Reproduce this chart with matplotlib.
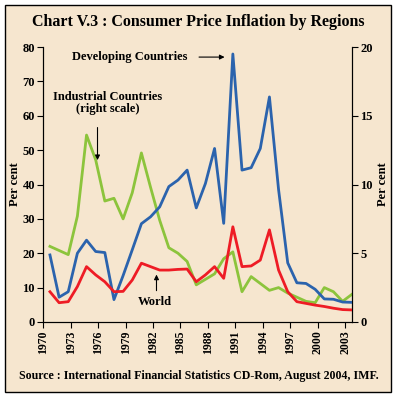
import numpy as np
import matplotlib.pyplot as plt
from matplotlib.patches import Rectangle

# Years and inflation (per cent)
years = np.arange(1970, 2004)
developing = [19.5, 7.2, 8.8, 20.0, 23.8, 20.5, 20.2, 6.5, 13.5, 21.0,
              28.6, 30.6, 33.5, 39.4, 41.3, 44.2, 33.2, 40.3, 50.5, 28.7,
              78.0, 44.2, 44.9, 50.5, 65.5, 38.5, 17.2, 11.4, 11.2, 9.5,
              6.7, 6.6, 5.8, 5.7]
world = [8.8, 5.6, 5.9, 10.3, 16.1, 13.7, 11.7, 8.8, 8.9, 12.2,
         17.1, 16.1, 15.1, 15.1, 15.3, 15.4, 11.7, 13.7, 16.1, 12.7,
         27.7, 16.1, 16.3, 18.0, 26.8, 15.1, 8.8, 5.9, 5.4, 4.9,
         4.5, 4.0, 3.6, 3.5]
# Industrial countries (right scale)
industrial = [5.5, 5.2, 4.9, 7.7, 13.6, 11.8, 8.8, 9.0, 7.5, 9.4,
              12.3, 9.8, 7.4, 5.4, 5.0, 4.4, 2.7, 3.1, 3.5, 4.6,
              5.1, 2.2, 3.3, 2.8, 2.3, 2.5, 2.1, 1.8, 1.5, 1.4,
              2.5, 2.2, 1.5, 2.0]
tick_years = years[::3]

font = 'Liberation Serif'
bg = '#F6E6CF'

fig = plt.figure(figsize=(3.97, 3.96), dpi=100, facecolor='white')
fig.patches.append(Rectangle((5/397, 4/396), 386/397, 387/396, transform=fig.transFigure,
                             facecolor=bg, edgecolor='black', linewidth=1.0, zorder=-1))

ax = fig.add_axes([0.109, 0.187, 0.777, 0.694])
ax2 = ax.twinx()

ax.plot(years, developing, color='#2B63AD', lw=2.0, zorder=3)
ax.plot(years, world, color='#EE1C25', lw=2.0, zorder=3)
ax2.plot(years, industrial, color='#8CC43C', lw=2.0)

# category-style x axis: first point sits a bit right of the first tick
offset = 0.73
ax.set_xlim(years[0] - offset, years[-1])
ax.set_ylim(0, 80)
ax2.set_ylim(0, 20)
ax.set_xticks(tick_years - offset)
ax.set_xticklabels([str(y) for y in tick_years], rotation=90)
ax.set_yticks(np.arange(0, 81, 10))
ax2.set_yticks(np.arange(0, 21, 5))

for a in (ax, ax2):
    a.spines['top'].set_visible(False)
    a.tick_params(length=4, width=0.8, labelsize=9, pad=2)
    a.tick_params(axis='x', labelsize=8.5)
    for lab in a.get_xticklabels() + a.get_yticklabels():
        lab.set_fontfamily(font)
        lab.set_fontweight('bold')
ax.set_zorder(ax2.get_zorder() + 1)
ax.patch.set_visible(False)
ax2.patch.set_facecolor(bg)

ax.set_ylabel('Per cent', fontfamily=font, fontweight='bold', fontsize=9, labelpad=1)
ax2.set_ylabel('Per cent', fontfamily=font, fontweight='bold', fontsize=9, labelpad=3)

txt = dict(fontfamily=font, fontweight='bold', fontsize=9, ha='center', va='center')
ax.text(1978.7, 77.1, 'Developing Countries', **txt)
ax.annotate('', xy=(1989.4, 77.1), xytext=(1986.0, 77.1),
            arrowprops=dict(arrowstyle='-|>', color='black', lw=0.8, mutation_scale=7))
ax.text(1976.3, 63.7, 'Industrial Countries\n(right scale)', linespacing=1.05, **txt)
ax.annotate('', xy=(1975.2, 46.3), xytext=(1975.2, 57.4),
            arrowprops=dict(arrowstyle='-|>', color='black', lw=0.8, mutation_scale=7))
ax.text(1981.5, 5.8, 'World', **txt)
ax.annotate('', xy=(1981.65, 14.6), xytext=(1981.65, 8.3),
            arrowprops=dict(arrowstyle='-|>', color='black', lw=0.8, mutation_scale=7))

fig.text(0.5, 1 - 22/396, 'Chart V.3 : Consumer Price Inflation by Regions',
         fontfamily=font, fontweight='bold', fontsize=11.5, ha='center', va='center')
fig.text(0.502, 1 - 376/396, 'Source : International Financial Statistics CD-Rom, August 2004, IMF.',
         fontfamily=font, fontweight='bold', fontsize=8.6, ha='center', va='center')

fig.savefig('out.png', dpi=100, facecolor='white')
